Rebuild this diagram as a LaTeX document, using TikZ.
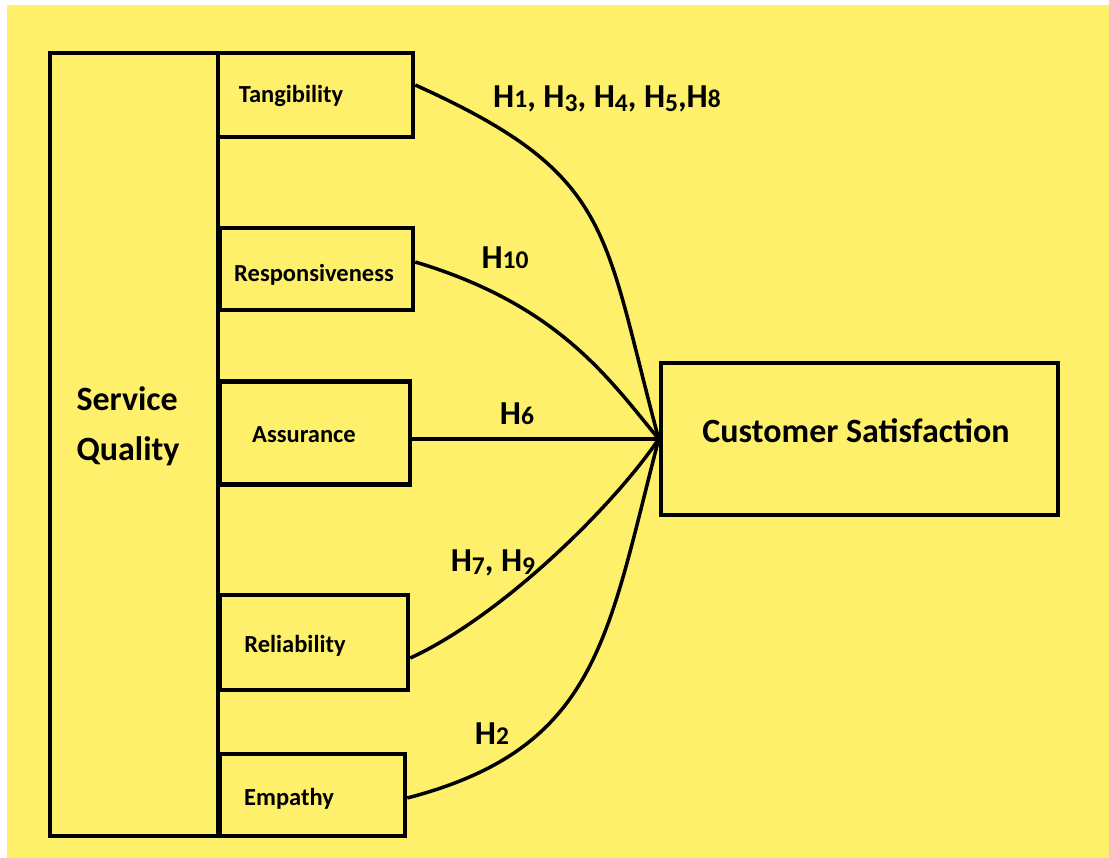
\documentclass[tikz,border=0pt]{standalone}
\usepackage{fontspec}
\setmainfont{Carlito}
\usepackage{tikz}
\usetikzlibrary{positioning}
\definecolor{bgyellow}{RGB}{254,240,106}

% small hypothesis digits (x-height ones and descending ones)
\newcommand{\hdig}[1]{{\fontsize{25.5}{28}\selectfont #1}}
\newcommand{\hdigdown}[1]{\raisebox{-3.5pt}{\fontsize{25.5}{28}\selectfont #1}}

\tikzset{
  dimbox/.style={draw, rectangle, line width=4.5pt, inner sep=0pt},
  dimtext/.style={font=\fontsize{24.5}{29}\selectfont\bfseries, inner sep=0pt},
  bigtext/.style={font=\fontsize{34}{50}\selectfont\bfseries, align=left, inner sep=0pt},
  hyptext/.style={font=\fontsize{33.5}{36}\selectfont\bfseries, inner sep=0pt},
  link/.style={line width=3.5pt}
}

\begin{document}
\begin{tikzpicture}[x=1pt, y=-1pt]
    \fill [white] (0,0) rectangle (1109,858);
    \fill [bgyellow] (7,5) rectangle (1109,858);
    \useasboundingbox (0,0) rectangle (1109,858);

    % service quality and its dimensions
    \node [dimbox, minimum width=168pt, minimum height=783pt] (sq) at (134,444.5) {};
    \node [bigtext] (sqtext) at (128,426) {Service\\Quality};

    \node [dimbox, minimum width=195pt, minimum height=84pt] (tan) at (315.5,95) {};
    \node [dimbox, minimum width=193pt, minimum height=82pt] (res) at (316.5,269) {};
    \node [dimbox, minimum width=190pt, minimum height=103pt] (ass) at (315,433) {};
    \node [dimbox, minimum width=188pt, minimum height=95pt] (rel) at (314,642.5) {};
    \node [dimbox, minimum width=185pt, minimum height=82pt] (emp) at (312.5,795) {};

    \node [dimtext] (tantext) at (291,96) {Tangibility};
    \node [dimtext] (restext) at (314,275) {Responsiveness};
    \node [dimtext] (asstext) at (304,435) {Assurance};
    \node [dimtext] (reltext) at (295,646) {Reliability};
    \node [dimtext] (emptext) at (289,799) {Empathy};

    % outcome
    \node [dimbox, minimum width=397pt, minimum height=152pt] (cs) at (859.5,439) {};
    \node [bigtext] (cstext) at (856,431) {Customer Satisfaction};

    % hypotheses
    \draw [link] (tan.east |- 0,85) .. controls (615,175) and (602,229) .. (cs.west);
    \draw [link] (res.east |- 0,262) .. controls (559,305) and (609,379) .. (cs.west);
    \draw [link] (ass.east |- cs.west) -- (cs.west);
    \draw [link] (rel.east |- 0,658) .. controls (500,617) and (612,508) .. (cs.west);
    \draw [link] (emp.east |- 0,798) .. controls (599,748) and (607,637) .. (cs.west);

    \node [hyptext, anchor=base] (h1) at (607,108) {H\hdig{1}, H\hdigdown{3}, H\hdigdown{4}, H\hdigdown{5},H\hdig{8}};
    \node [hyptext, anchor=base] (h10) at (505,269) {H\hdig{10}};
    \node [hyptext, anchor=base] (h6) at (517,425) {H\hdig{6}};
    \node [hyptext, anchor=base] (h7) at (493,571) {H\hdigdown{7}, H\hdigdown{9}};
    \node [hyptext, anchor=base] (h2) at (492,744) {H\hdig{2}};
\end{tikzpicture}
\end{document}
